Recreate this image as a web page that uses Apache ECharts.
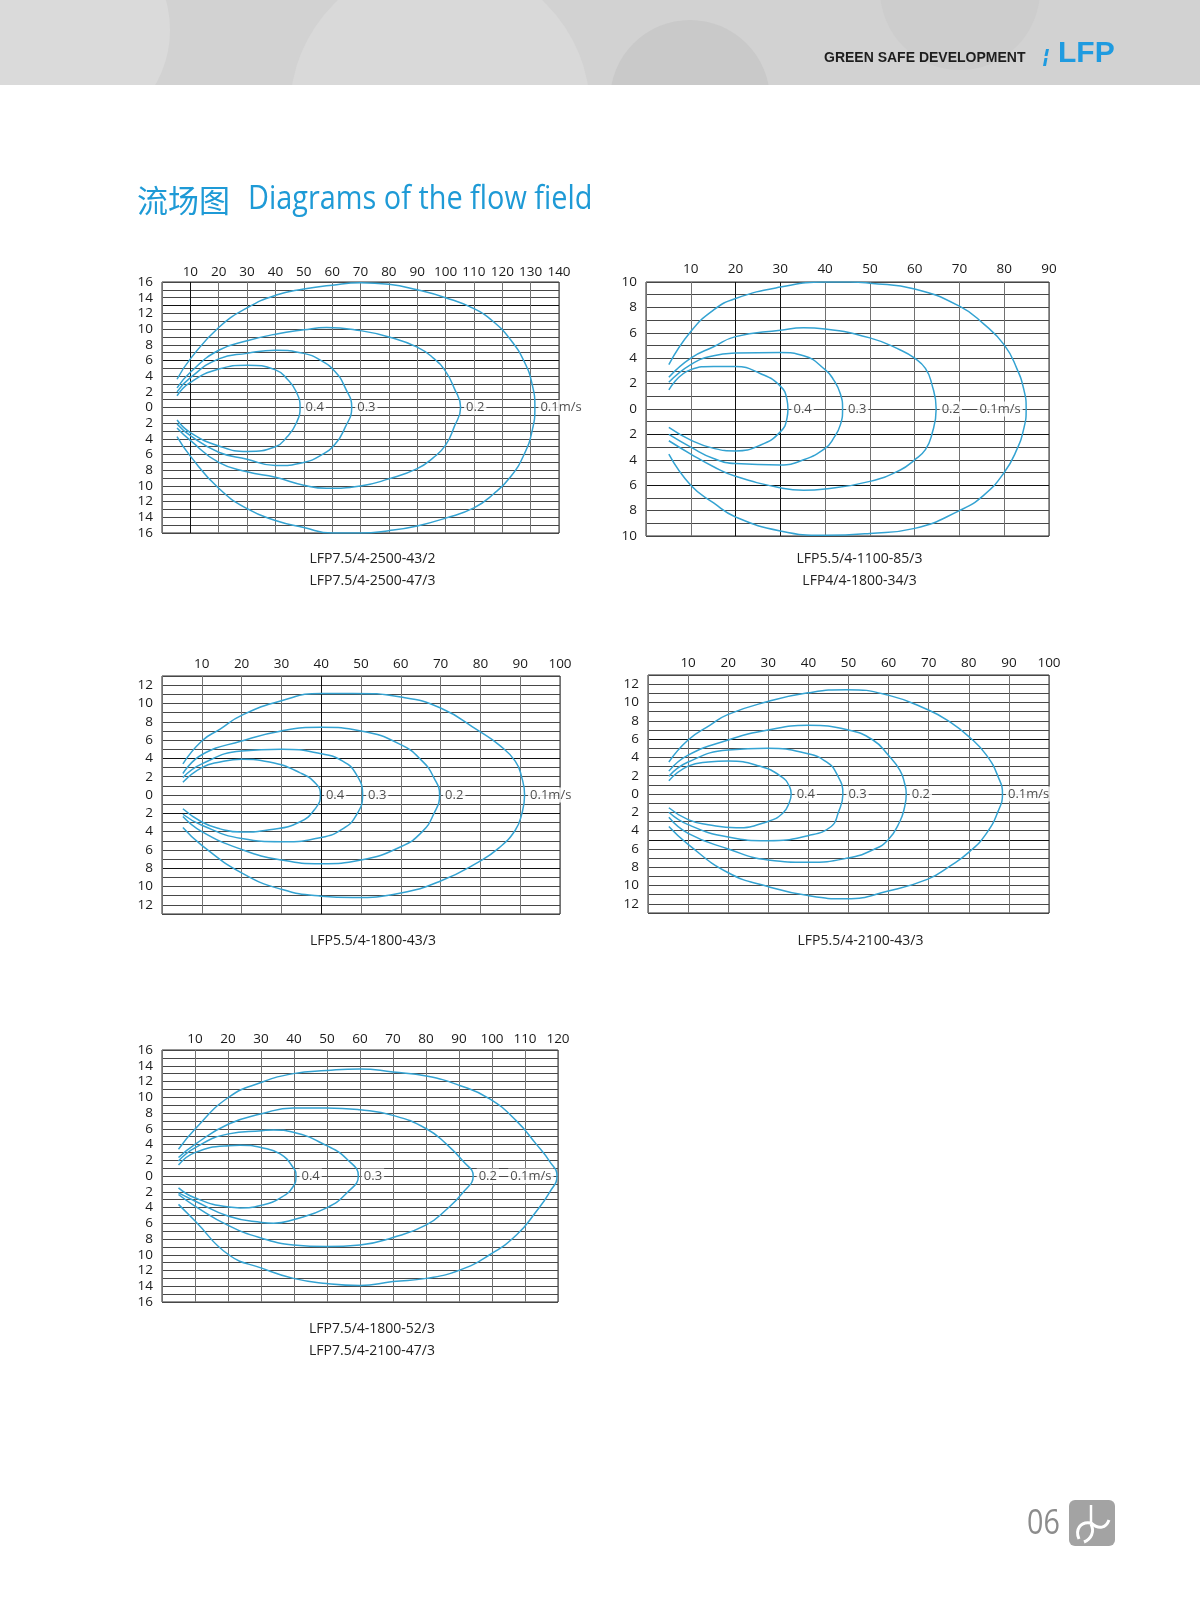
<!DOCTYPE html>
<html>
<head>
<meta charset="utf-8">
<script src="https://cdn.jsdelivr.net/npm/echarts@6/dist/echarts.min.js"></script>
<style>
  html, body { margin: 0; padding: 0; background: #fff; }
  #main { width: 1200px; height: 1600px; }
</style>
</head>
<body>
<div id="main"></div>
<script>
// 流速等值线标签
const speeds = ['0.4', '0.3', '0.2', '0.1m/s'];

// 图1 LFP7.5/4-2500  (x 0-140, y ±16)
const c1v04 = [[5.3,1.5],[10,3.2],[20,4.9],[30,5.4],[40,4.8],[44.2,3.6],[47.2,2.1],[48.7,0],[47.2,-2.1],[44.2,-3.7],[40,-5.0],[30,-5.6],[20,-4.9],[10,-3.2],[5.3,-1.6]];
const c1v03 = [[5.3,2.0],[10,3.8],[20,6.2],[30,6.9],[40,7.3],[50,6.9],[56,6.0],[61,4.6],[64.5,2.6],[66.9,0],[64.5,-2.6],[61,-4.7],[56,-6.1],[50,-7.0],[40,-7.4],[30,-6.6],[20,-5.7],[10,-3.6],[5.3,-2.1]];
const c1v02 = [[5.3,2.5],[10,4.5],[20,7.3],[30,8.5],[40,9.35],[50,9.9],[58,10.2],[70,9.8],[80,9.0],[90,7.7],[95.7,6.3],[100,4.6],[103,2.5],[105.3,0],[103,-2.5],[100,-4.8],[95.7,-6.4],[90,-7.8],[80,-9.1],[70,-10.0],[58,-10.3],[50,-9.9],[40,-8.9],[30,-8.2],[20,-7.0],[10,-4.2],[5.3,-2.6]];
const c1v01 = [[5.3,3.6],[10,6.2],[20,10.2],[30,12.7],[40,14.3],[50,15.1],[60,15.6],[70,15.9],[80,15.7],[90,15.0],[100,14.0],[110,12.6],[117,10.9],[123,8.6],[127.8,5.8],[130.5,3.0],[131.5,0],[130.5,-3.0],[127.8,-5.9],[123,-8.8],[117,-11.0],[110,-12.8],[100,-14.1],[90,-15.1],[80,-15.7],[70,-16.0],[60,-16.0],[50,-15.3],[40,-14.4],[30,-12.9],[20,-10.3],[10,-6.2],[5.3,-3.7]];

// 图2 LFP5.5/4-1100 (x 0-90, y ±10)
const c2v04 = [[5.1,1.5],[10,3.1],[15.1,3.35],[20,3.35],[25.5,2.8],[30,1.8],[31.5,0.7],[31.7,0],[31.5,-0.7],[30,-1.8],[25.5,-2.85],[20,-3.3],[15.1,-3.1],[10,-2.45],[5.1,-1.45]];
const c2v03 = [[5.1,2.1],[10,3.5],[15.1,4.2],[20,4.4],[30,4.45],[35.2,4.2],[40,3.1],[41.9,2.3],[43.4,1.2],[43.9,0],[43.4,-1.25],[41.9,-2.3],[40,-3.1],[35.2,-4.0],[30,-4.4],[20,-4.3],[15.1,-3.9],[10,-3.0],[5.1,-2.0]];
const c2v02 = [[5.1,2.5],[10,4.0],[15.1,4.9],[20,5.7],[30,6.2],[35.2,6.4],[40,6.3],[50,5.6],[56.8,4.65],[60,4.0],[62.4,3.2],[63.8,2.0],[64.8,0],[63.8,-2.05],[62.4,-3.2],[60,-4.0],[56.8,-4.8],[50,-5.7],[40,-6.3],[35.2,-6.4],[30,-6.2],[20,-5.3],[15.1,-4.55],[10,-3.55],[5.1,-2.5]];
const c2v01 = [[5.1,3.5],[10,6.1],[15.1,7.8],[20,8.7],[30,9.6],[40,10.0],[45.6,10.0],[50,9.9],[60,9.45],[70,8.1],[75.4,6.7],[80,5.05],[82.8,3.2],[84.4,1.5],[84.9,0],[84.4,-1.5],[82.8,-3.2],[80,-5.0],[75.4,-6.8],[70,-8.0],[60,-9.4],[50,-9.8],[40,-9.95],[30,-9.6],[20,-8.5],[15.1,-7.4],[10,-6.0],[5.1,-3.55]];

// 图3 LFP5.5/4-1800 (x 0-100, y ±13)
const c3v04 = [[5.25,1.4],[10,3.0],[14.6,3.6],[20,3.9],[27,3.6],[34.6,2.45],[38.75,1.2],[39.8,0],[38.75,-1.35],[34.6,-2.95],[27,-3.8],[20,-4.05],[14.6,-3.7],[10,-2.95],[5.25,-1.5]];
const c3v03 = [[5.25,1.9],[10,3.4],[20,4.8],[30,5.0],[40,4.5],[45.4,3.7],[48.75,2.3],[50.4,0],[48.75,-2.25],[45.4,-3.7],[40,-4.65],[30,-5.1],[20,-4.75],[10,-3.3],[5.25,-2.1]];
const c3v02 = [[5.25,2.35],[10,4.4],[20,5.9],[30,7.0],[40,7.4],[50,7.0],[60,5.5],[65.4,3.7],[68.3,1.9],[69.75,0],[68.3,-2.05],[65.4,-4.0],[60,-5.65],[50,-7.1],[40,-7.5],[30,-7.1],[20,-5.95],[10,-4.0],[5.25,-2.35]];
const c3v01 = [[5.25,3.4],[10,5.9],[14.6,7.2],[20,8.7],[30,10.3],[40,11.1],[47.9,11.1],[60,10.7],[70,9.5],[79.6,7.0],[84.6,5.5],[88.75,3.7],[90.4,1.9],[91.1,0],[90.4,-2.05],[88.75,-3.85],[84.6,-5.8],[79.6,-7.3],[70,-9.4],[60,-10.7],[47.9,-11.2],[40,-11.05],[30,-10.3],[20,-8.5],[10,-5.5],[5.25,-3.55]];

// 图4 LFP5.5/4-2100 (x 0-100, y ±13)
const c4v04 = [[5.2,1.45],[10,3.05],[15,3.5],[20,3.6],[27.8,3.05],[33.25,1.9],[35.3,0.8],[35.7,0],[35.3,-0.85],[33.6,-2.1],[29.9,-3.0],[22,-3.7],[15,-3.35],[10,-2.8],[5.2,-1.5]];
const c4v03 = [[5.2,1.95],[10,3.5],[20,4.8],[29.9,5.0],[39.9,4.4],[44.5,3.5],[47,2.25],[48.6,0],[47.4,-2.1],[45.7,-3.55],[39.9,-4.55],[29.9,-5.1],[20,-4.7],[10,-3.35],[5.2,-2.0]];
const c4v02 = [[5.2,2.5],[10,4.25],[20,5.9],[29.9,7.0],[39.9,7.5],[49.9,7.0],[56.1,5.9],[59.9,4.25],[62.8,2.6],[64,1.15],[64.4,0],[64,-1.4],[62.8,-3.0],[59.9,-5.0],[56.1,-6.1],[49.9,-7.0],[39.9,-7.45],[29.9,-7.2],[20,-6.0],[10,-4.3],[5.2,-2.55]];
const c4v01 = [[5.2,3.5],[10,5.9],[15.4,7.5],[20,8.7],[29.9,10.1],[39.9,11.05],[49.5,11.4],[59.9,10.8],[69.8,9.2],[75.2,7.9],[80.2,6.2],[84.4,4.25],[87.3,1.9],[88.4,0],[87.3,-1.9],[84.4,-4.3],[80.2,-6.3],[75.2,-7.9],[69.8,-9.3],[59.9,-10.6],[49.5,-11.45],[39.9,-11.1],[29.9,-10.1],[20,-8.6],[10,-5.5],[5.2,-3.55]];

// 图5 LFP7.5/4-1800-52 (x 0-120, y ±16)
const c5v04 = [[5.0,1.4],[10.1,3.0],[20.2,3.85],[23.7,3.9],[30.2,3.6],[35.8,2.8],[39.8,1.05],[40.6,0],[39.8,-1.3],[35.8,-2.8],[30.2,-3.7],[23.7,-4.05],[20.2,-3.95],[10.1,-2.8],[5.0,-1.5]];
const c5v03 = [[5.0,1.9],[10.1,3.6],[20.2,5.35],[30.2,5.75],[33.8,5.85],[39.8,5.55],[49.9,3.85],[56,2.15],[59.5,0],[56,-2.15],[49.9,-4.05],[39.8,-5.55],[33.8,-6.0],[30.2,-5.9],[20.2,-5.1],[10.1,-3.2],[5.0,-2.15]];
const c5v02 = [[5.0,2.35],[10.1,4.05],[20.2,6.6],[30.2,7.9],[39.8,8.65],[49.9,8.65],[60,8.4],[70,7.7],[80.1,6.0],[86.2,4.05],[91.2,1.9],[94.3,0],[91.2,-2.1],[86.2,-4.25],[80.1,-6.2],[70,-7.8],[60,-8.75],[49.9,-8.95],[39.8,-8.75],[30.2,-7.9],[20.2,-6.3],[10.1,-3.85],[5.0,-2.35]];
const c5v01 = [[5.0,3.4],[10.1,6.0],[20.2,10.0],[30.2,11.9],[39.8,13.0],[49.9,13.4],[60,13.6],[70,13.2],[80.1,12.7],[90.2,11.5],[99.3,9.8],[107.4,7.0],[113.4,4.05],[117.4,1.9],[119.7,0],[117.4,-2.1],[113.4,-4.5],[107.4,-7.5],[99.3,-10.0],[90.2,-11.95],[80.1,-13.0],[70,-13.4],[60,-13.9],[49.9,-13.65],[39.8,-13.0],[30.2,-11.7],[20.2,-10.0],[10.1,-5.75],[5.0,-3.6]];

// 型号
const models1 = ['LFP7.5/4-2500-43/2', 'LFP7.5/4-2500-47/3'];
const models2 = ['LFP5.5/4-1100-85/3', 'LFP4/4-1800-34/3'];
const models3 = ['LFP5.5/4-1800-43/3'];
const models4 = ['LFP5.5/4-2100-43/3'];
const models5 = ['LFP7.5/4-1800-52/3', 'LFP7.5/4-2100-47/3'];

// 坐标范围
const xMaxs = [140, 90, 100, 100, 120];
const yMaxs = [16, 10, 13, 13, 16];

// 版面设置
const panels = [
  { curves: [c1v04, c1v03, c1v02, c1v01], box: [162, 282, 397, 251], capY: 559, xMargin: 3, darkX: [10], darkY: [13, 6], lastPos: 'right', models: models1 },
  { curves: [c2v04, c2v03, c2v02, c2v01], box: [646, 282, 403, 254], capY: 559, xMargin: 6, darkX: [20, 30], darkY: [-2, -6], lastPos: 'left', models: models2 },
  { curves: [c3v04, c3v03, c3v02, c3v01], box: [162, 676, 398, 238], capY: 941, xMargin: 5, darkX: [40], darkY: [4, -2, -8], lastPos: 'right', models: models3 },
  { curves: [c4v04, c4v03, c4v02, c4v01], box: [648, 675, 401, 238], capY: 941, xMargin: 5, darkX: [], darkY: [6, -5], lastPos: 'right', models: models4 },
  { curves: [c5v04, c5v03, c5v02, c5v01], box: [162, 1050, 396, 252], capY: 1329, xMargin: 4, darkX: [], darkY: [], lastPos: 'left', models: models5 }
];

const blue = '#1e9ad6';
const curveColor = '#34a3d2';
const font = 'Open Sans';

const grid = [], xAxis = [], yAxis = [], series = [], graphic = [];

panels.forEach((p, i) => {
  const xMax = xMaxs[i], yMax = yMaxs[i];
  grid.push({ left: p.box[0], top: p.box[1], width: p.box[2], height: p.box[3], show: true, borderColor: '#2a2a2a', borderWidth: 1 });

  const xColors = [];
  for (let v = 0; v <= xMax; v += 10) xColors.push(p.darkX.includes(v) ? '#111' : '#727272');
  const yColors = [];
  for (let v = -yMax; v <= yMax; v += 1) yColors.push(p.darkY.includes(v) ? '#111' : '#474747');

  xAxis.push({
    gridIndex: i, type: 'value', min: 0, max: xMax, interval: 10, position: 'top',
    axisLine: { show: false }, axisTick: { show: false },
    axisLabel: { margin: p.xMargin, fontFamily: font, fontSize: 13.5, color: '#1a1a1a', formatter: v => (v === 0 ? '' : v) },
    splitLine: { show: true, lineStyle: { color: xColors, width: 1 } }
  });
  yAxis.push({
    gridIndex: i, type: 'value', min: -yMax, max: yMax, interval: 1,
    axisLine: { show: false }, axisTick: { show: false },
    axisLabel: { margin: 9, fontFamily: font, fontSize: 13.5, color: '#1a1a1a', formatter: v => (Math.round(v) % 2 === 0 ? Math.abs(v) : '') },
    splitLine: { show: true, lineStyle: { color: yColors, width: 1 } }
  });

  p.curves.forEach(c => {
    series.push({
      type: 'line', xAxisIndex: i, yAxisIndex: i, data: c, smooth: 0.5,
      symbol: 'none', silent: true, z: 3,
      lineStyle: { color: curveColor, width: 1.5 }
    });
  });

  // 等值线标签放在曲线顶点（y=0 处）
  const tips = p.curves.map((c, k) => {
    const tip = c.find(pt => pt[1] === 0);
    return {
      value: tip,
      label: { formatter: speeds[k], position: k === 3 ? p.lastPos : 'right' }
    };
  });
  series.push({
    type: 'scatter', xAxisIndex: i, yAxisIndex: i, data: tips, symbolSize: 1, z: 4, silent: true,
    itemStyle: { color: 'transparent' },
    label: {
      show: true, distance: 3, fontFamily: font, fontSize: 13, color: '#1e1e1e',
      backgroundColor: '#fff', padding: [1, 2]
    }
  });

  // 型号文字
  p.models.forEach((m, k) => {
    graphic.push({
      type: 'text', x: p.box[0] + p.box[2] / 2 + 12, y: p.capY + k * 22, z: 3,
      style: { text: m, font: '14px "Open Sans"', fill: '#222', textAlign: 'center', textVerticalAlign: 'middle' }
    });
  });
});

// 页眉
graphic.push(
  { type: 'rect', shape: { x: 0, y: 0, width: 1200, height: 85 }, style: { fill: '#d2d2d2' }, z: 0 },
  { type: 'circle', shape: { cx: 60, cy: 30, r: 110 }, style: { fill: '#dadada' }, z: 1 },
  { type: 'circle', shape: { cx: 440, cy: 110, r: 150 }, style: { fill: '#d9d9d9' }, z: 1 },
  { type: 'circle', shape: { cx: 690, cy: 100, r: 80 }, style: { fill: '#c9c9c9' }, z: 1 },
  { type: 'circle', shape: { cx: 960, cy: -10, r: 80 }, style: { fill: '#cdcdcd' }, z: 1 },
  { type: 'rect', shape: { x: 0, y: 85, width: 1200, height: 175 }, style: { fill: '#fff' }, z: 2 },
  { type: 'text', x: 824, y: 58, z: 3, style: { text: 'GREEN SAFE DEVELOPMENT', font: 'bold 14px "Liberation Sans"', fill: '#1e1e1e', textVerticalAlign: 'middle' } },
  { type: 'polygon', z: 3, shape: { points: [[1046, 49], [1049, 49], [1047.5, 56], [1044.5, 56]] }, style: { fill: '#1f9be0' } },
  { type: 'polygon', z: 3, shape: { points: [[1044.5, 58], [1047.5, 58], [1046, 66], [1043, 66]] }, style: { fill: '#1f9be0' } },
  { type: 'text', x: 1058, y: 54, z: 3, style: { text: 'LFP', font: 'bold 30px "Liberation Sans"', fill: '#1f9be0', textVerticalAlign: 'middle' } }
);

// 标题
graphic.push(
  { type: 'text', x: 137, y: 200, z: 3, style: { text: '流场图', font: '31px "Noto Sans CJK SC"', fill: blue, textVerticalAlign: 'middle' } },
  { type: 'text', x: 248, y: 200, scaleX: 0.875, z: 3, style: { text: 'Diagrams of the flow field', font: '33px "Open Sans"', fill: blue, textVerticalAlign: 'middle' } }
);

// 页码与图标
graphic.push(
  { type: 'text', x: 1027, y: 1524, scaleX: 0.82, z: 3, style: { text: '06', font: '35px "Open Sans"', fill: '#8c8c8c', textVerticalAlign: 'middle' } },
  { type: 'rect', z: 3, shape: { x: 1069, y: 1500, width: 46, height: 46, r: 6 }, style: { fill: '#a3a3a3' } },
  { type: 'line', z: 4, shape: { x1: 1091, y1: 1505, x2: 1091, y2: 1523 }, style: { stroke: '#fff', lineWidth: 2.5 } },
  { type: 'bezierCurve', z: 4, shape: { x1: 1091, y1: 1523, cpx1: 1080, cpy1: 1521, cpx2: 1075, cpy2: 1530, x2: 1079, y2: 1539 }, style: { stroke: '#fff', lineWidth: 3, fill: null } },
  { type: 'bezierCurve', z: 4, shape: { x1: 1091, y1: 1523, cpx1: 1099, cpy1: 1530, cpx2: 1106, cpy2: 1528, x2: 1109, y2: 1520 }, style: { stroke: '#fff', lineWidth: 3, fill: null } },
  { type: 'bezierCurve', z: 4, shape: { x1: 1091, y1: 1524, cpx1: 1095, cpy1: 1532, cpx2: 1091, cpy2: 1539, x2: 1084, y2: 1542 }, style: { stroke: '#fff', lineWidth: 3, fill: null } }
);

const myChart = echarts.init(document.getElementById('main'), null, { renderer: 'canvas' });
myChart.setOption({
  animation: false,
  backgroundColor: '#fff',
  grid, xAxis, yAxis, series, graphic
});
</script>
</body>
</html>
